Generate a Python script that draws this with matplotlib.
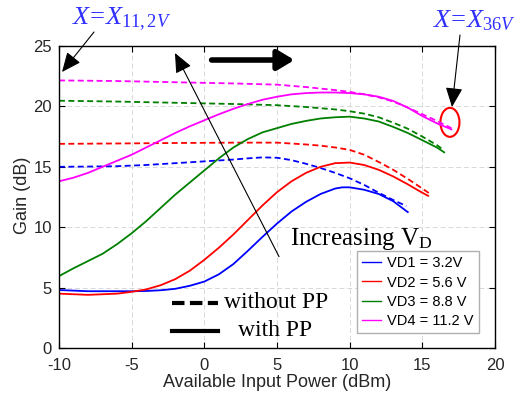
import matplotlib
matplotlib.use("Agg")
import matplotlib.pyplot as plt
from matplotlib.patches import Ellipse

plt.rcParams["font.family"] = ["Liberation Sans", "DejaVu Sans"]
plt.rcParams["mathtext.fontset"] = "custom"
plt.rcParams["mathtext.rm"] = "Liberation Serif"
plt.rcParams["mathtext.it"] = "Liberation Serif:italic"
plt.rcParams["axes.unicode_minus"] = False

# gain curves (x in dBm, gain in dB)
vd1_pp_x = [-10, -9, -8, -7, -6, -5, -4, -3, -2, -1, 0, 1, 2, 3, 4, 5, 6, 7, 8, 9, 9.5, 10, 11, 12, 13, 14]
vd1_pp_y = [4.8, 4.75, 4.7, 4.7, 4.7, 4.7, 4.72, 4.78, 4.9, 5.15, 5.5, 6.1, 6.95, 8.05, 9.2, 10.3, 11.3, 12.1,
            12.75, 13.2, 13.3, 13.3, 13.1, 12.75, 12.15, 11.25]
vd1_no_x = [-10, -8, -6, -4, -2, 0, 2, 3, 4, 5, 6, 7, 8, 9, 10, 11, 12, 13, 13.9]
vd1_no_y = [15.0, 15.02, 15.05, 15.15, 15.3, 15.45, 15.6, 15.7, 15.78, 15.75, 15.55, 15.25, 14.9, 14.5, 14.05,
            13.5, 12.85, 12.25, 11.75]

vd2_pp_x = [-10, -9, -8, -7, -6, -5, -4, -3, -2, -1, 0, 1, 2, 3, 4, 5, 6, 7, 8, 9, 10, 11, 12, 13, 14, 15, 15.4]
vd2_pp_y = [4.5, 4.45, 4.4, 4.45, 4.5, 4.65, 4.85, 5.2, 5.7, 6.4, 7.3, 8.3, 9.4, 10.6, 11.8, 12.9, 13.8, 14.5,
            15.0, 15.3, 15.35, 15.15, 14.75, 14.2, 13.55, 12.85, 12.6]
vd2_no_x = [-10, -6, -2, 2, 5, 7, 8, 9, 10, 11, 12, 13, 14, 15, 15.6]
vd2_no_y = [16.9, 16.93, 16.97, 17.0, 17.0, 16.85, 16.75, 16.6, 16.4, 16.0, 15.4, 14.75, 14.0, 13.2, 12.7]

vd3_pp_x = [-10, -9, -8, -7, -6, -5, -4, -3, -2, -1, 0, 1, 2, 3, 4, 5, 6, 7, 8, 9, 10, 11, 12, 13, 14, 15, 16, 16.5]
vd3_pp_y = [5.95, 6.6, 7.2, 7.8, 8.6, 9.5, 10.5, 11.6, 12.7, 13.7, 14.7, 15.7, 16.6, 17.3, 17.85, 18.2, 18.55,
            18.8, 19.0, 19.1, 19.15, 19.0, 18.75, 18.3, 17.8, 17.2, 16.6, 16.2]
vd3_no_x = [-10, -6, -2, 2, 5, 7, 9, 10, 11, 12, 13, 14, 15, 16, 16.45]
vd3_no_y = [20.47, 20.4, 20.3, 20.2, 20.1, 19.95, 19.75, 19.6, 19.4, 19.1, 18.65, 18.15, 17.5, 16.8, 16.4]

vd4_pp_x = [-10, -9, -8, -7, -6, -5, -4, -3, -2, -1, 0, 1, 2, 3, 4, 5, 6, 7, 8, 9, 10, 11, 12, 13, 14, 15, 16, 17]
vd4_pp_y = [13.8, 14.1, 14.5, 15.0, 15.5, 16.0, 16.6, 17.2, 17.8, 18.35, 18.85, 19.35, 19.8, 20.2, 20.55, 20.8,
            21.0, 21.1, 21.15, 21.15, 21.1, 21.0, 20.8, 20.45, 19.9, 19.2, 18.6, 18.1]
vd4_no_x = [-10, -6, -2, 2, 5, 7, 9, 10, 11, 12, 13, 14, 15, 16, 17]
vd4_no_y = [22.15, 22.1, 22.0, 21.9, 21.8, 21.6, 21.35, 21.2, 21.0, 20.75, 20.4, 19.9, 19.35, 18.8, 18.2]

labels = ["VD1 = 3.2V", "VD2 = 5.6 V", "VD3 = 8.8 V", "VD4 = 11.2 V"]
colors = ["#0000ff", "#ff0000", "#008000", "#ff00ff"]

with_pp = [(vd1_pp_x, vd1_pp_y), (vd2_pp_x, vd2_pp_y), (vd3_pp_x, vd3_pp_y), (vd4_pp_x, vd4_pp_y)]
without_pp = [(vd1_no_x, vd1_no_y), (vd2_no_x, vd2_no_y), (vd3_no_x, vd3_no_y), (vd4_no_x, vd4_no_y)]

W, H = 518, 405
fig = plt.figure(figsize=(W / 100, H / 100), dpi=100)
ax = fig.add_axes([59 / W, 1 - 348 / H, 436 / W, 302 / H])


def fpx(x, y):
    # image pixel (top-left origin) -> figure fraction
    return x / W, 1 - y / H


handles = []
for (xs, ys), (xd, yd), c, lab in zip(with_pp, without_pp, colors, labels):
    ax.plot(xd, yd, color=c, lw=1.3, ls=(0, (3.3, 1.9)))
    h, = ax.plot(xs, ys, color=c, lw=1.3, label=lab)
    handles.append(h)

ax.set_xlim(-10, 20)
ax.set_ylim(0, 25)
ax.set_xticks(range(-10, 21, 5))
ax.set_yticks(range(0, 26, 5))
ax.grid(True, color="#d8d8d8", lw=0.7, ls=(0, (5, 3)))
ax.tick_params(direction="in", top=True, right=True, length=4, labelsize=12, colors="k", labelcolor="#262626")
ax.tick_params(axis="x", pad=7)
ax.tick_params(axis="y", pad=5)
for s in ax.spines.values():
    s.set_linewidth(1.0)
ax.set_xlabel("Available Input Power (dBm)", fontsize=13, color="#262626")
ax.set_ylabel("Gain (dB)", fontsize=13, color="#262626")
ax.xaxis.set_label_coords(0.5, -0.085)
ax.yaxis.set_label_coords(-0.064, 0.505)

leg = ax.legend(handles=handles, loc="lower right", bbox_to_anchor=(0.979, 0.026), fontsize=10.5,
                handlelength=1.3, handletextpad=0.4, labelspacing=0.35, borderpad=0.35,
                fancybox=False, framealpha=1, edgecolor="#b0b0b0")
leg.get_frame().set_linewidth(1.0)
for lh in leg.get_lines():
    lh.set_linewidth(1.0)

# dashed / solid key
serif = ["Liberation Serif", "DejaVu Serif"]
ax.plot([-2.24, 0.96], [3.75, 3.75], color="k", lw=3, ls=(0, (3.0, 1.3)))
ax.plot([-2.24, 0.96], [1.41, 1.41], color="k", lw=3)
ax.text(1.35, 3.75, "without PP", family=serif, fontsize=17, va="center", ha="left")
ax.text(2.35, 1.41, "with PP", family=serif, fontsize=17, va="center", ha="left")

ax.text(5.9, 8.5, r"Increasing V$_\mathrm{D}$", family=serif, fontsize=18, va="baseline", ha="left")

# arrows
ax.annotate("", xy=(6.2, 23.84), xytext=(0.5, 23.84),
            arrowprops=dict(arrowstyle="-|>,head_length=0.5,head_width=0.3", lw=4, color="k",
                            mutation_scale=20, shrinkA=0, shrinkB=0))
ax.annotate("", xy=(-2.02, 24.42), xytext=(5.14, 7.56),
            arrowprops=dict(arrowstyle="-|>,head_length=0.8,head_width=0.35", lw=0.8, color="k",
                            mutation_scale=15, shrinkA=0, shrinkB=0))

ell = Ellipse((16.9, 18.68), 1.31, 2.4, fill=False, ec="red", lw=1.5, clip_on=False)
ax.add_patch(ell)

blue_txt = "#3030ff"
fig.text(*fpx(72, 24), r"$X\!=\!X_{\mathit{11,2V}}$", fontsize=19, color=blue_txt, ha="left", va="baseline")
fig.text(*fpx(433, 27), r"$X\!=\!X_{\mathit{36V}}$", fontsize=19, color=blue_txt, ha="left", va="baseline")
ax.annotate("", xy=fpx(62, 72), xytext=fpx(94, 32), xycoords="figure fraction", textcoords="figure fraction",
            arrowprops=dict(arrowstyle="-|>,head_length=0.8,head_width=0.35", lw=0.8, color="k",
                            mutation_scale=15, shrinkA=0, shrinkB=0))
ax.annotate("", xy=fpx(452, 107), xytext=fpx(460, 35), xycoords="figure fraction", textcoords="figure fraction",
            arrowprops=dict(arrowstyle="-|>,head_length=0.8,head_width=0.35", lw=0.8, color="k",
                            mutation_scale=15, shrinkA=0, shrinkB=0))

fig.savefig("out.png", dpi=100)
